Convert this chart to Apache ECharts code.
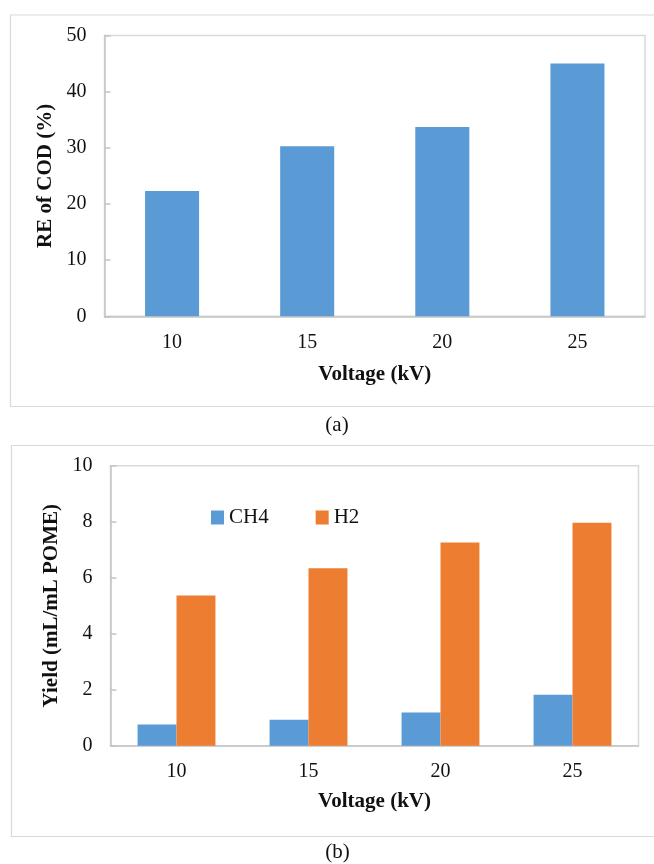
<!DOCTYPE html>
<html>
<head>
<meta charset="utf-8">
<script src="https://cdn.jsdelivr.net/npm/echarts@6/dist/echarts.min.js"></script>
<style>
html,body{margin:0;padding:0;background:#fff;}
#main{width:654px;height:864px;}
</style>
</head>
<body>
<div id="main"></div>
<script>
// Data
var voltages = ['10', '15', '20', '25'];
var reCOD = [22.3, 30.3, 33.7, 45.0];
var ch4Yield = [0.76, 0.93, 1.19, 1.82];
var h2Yield = [5.36, 6.34, 7.26, 7.96];
var seriesNames = ['CH4', 'H2'];
var captions = ['(a)', '(b)'];

var FONT = '"Liberation Serif", "Times New Roman", serif';
var TXT = '#111';
var BLUE = '#5B9BD5';
var ORANGE = '#ED7D31';
var FRAME = '#d9d9d9';
var AXIS = '#c4c4c4';

var chart = echarts.init(document.getElementById('main'), null, {renderer: 'canvas'});

function xAx(idx, gap) {
  return {
    type: 'category', gridIndex: idx, data: voltages,
    name: 'Voltage (kV)', nameLocation: 'middle', nameGap: gap,
    nameTextStyle: {fontFamily: FONT, fontSize: 21, fontWeight: 'bold', color: TXT},
    axisLine: {show: true, lineStyle: {color: AXIS, width: 1.5}},
    axisTick: {show: false},
    axisLabel: {fontFamily: FONT, fontSize: 20, color: TXT, margin: 16},
    splitLine: {show: false}
  };
}
function yAx(idx, name, max, interval) {
  return {
    type: 'value', gridIndex: idx, min: 0, max: max, interval: interval,
    name: name, nameLocation: 'middle', nameGap: 48, nameRotate: 90,
    nameTextStyle: {fontFamily: FONT, fontSize: 21, fontWeight: 'bold', color: TXT},
    axisLine: {show: true, lineStyle: {color: AXIS, width: 1.5}},
    axisTick: {show: true, inside: true, length: 6, lineStyle: {color: AXIS, width: 1.5}},
    axisLabel: {fontFamily: FONT, fontSize: 20, color: TXT, margin: 18},
    splitLine: {show: false}
  };
}

var option = {
  backgroundColor: '#fff',
  animation: false,
  graphic: [
    {type: 'rect', shape: {x: 10.5, y: 15, width: 660, height: 391.5}, style: {fill: 'none', stroke: FRAME, lineWidth: 1.2}, z: 0},
    {type: 'rect', shape: {x: 11.5, y: 445.5, width: 660, height: 391}, style: {fill: 'none', stroke: FRAME, lineWidth: 1.2}, z: 0},
    {type: 'text', x: 337, y: 425, style: {text: captions[0], font: '21px ' + FONT, fill: TXT, textAlign: 'center', textVerticalAlign: 'middle'}},
    {type: 'text', x: 337.5, y: 852.5, style: {text: captions[1], font: '21px ' + FONT, fill: TXT, textAlign: 'center', textVerticalAlign: 'middle'}}
  ],
  legend: {
    data: seriesNames,
    left: 211, top: 507, padding: 0,
    itemWidth: 13, itemHeight: 14, itemGap: 47,
    icon: 'rect',
    textStyle: {fontFamily: FONT, fontSize: 21, color: TXT}
  },
  grid: [
    {left: 104.5, top: 35.5, width: 540.5, height: 280.8, show: true, borderColor: FRAME, borderWidth: 1.5, containLabel: false},
    {left: 110.5, top: 465.7, width: 528, height: 280, show: true, borderColor: FRAME, borderWidth: 1.5, containLabel: false}
  ],
  xAxis: [xAx(0, 48), xAx(1, 45.5)],
  yAxis: [yAx(0, 'RE of COD (%)', 50, 10), yAx(1, 'Yield (mL/mL POME)', 10, 2)],
  series: [
    {type: 'bar', name: 'RE', xAxisIndex: 0, yAxisIndex: 0, data: reCOD, barWidth: '40%', itemStyle: {color: BLUE}},
    {type: 'bar', name: seriesNames[0], xAxisIndex: 1, yAxisIndex: 1, data: ch4Yield, barGap: '0%', barCategoryGap: '41%', itemStyle: {color: BLUE}},
    {type: 'bar', name: seriesNames[1], xAxisIndex: 1, yAxisIndex: 1, data: h2Yield, barGap: '0%', barCategoryGap: '41%', itemStyle: {color: ORANGE}}
  ]
};
chart.setOption(option);
</script>
</body>
</html>
